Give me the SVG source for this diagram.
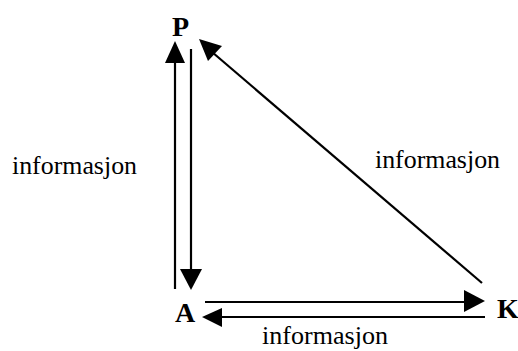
<svg xmlns="http://www.w3.org/2000/svg" width="518" height="351" viewBox="0 0 518 351">
<style>
.lbl{font-family:'Liberation Serif',serif;font-weight:bold;font-size:28px;fill:#000}
.txt{font-family:'Liberation Serif',serif;font-size:26px;fill:#000}
.ln{stroke:#000;stroke-width:2.2;fill:none}
.ah{fill:#000}
</style>
<rect width="518" height="351" fill="#fff"/>
<g id="P"><text class="lbl" x="172" y="36">P</text></g>
<g id="A"><text class="lbl" x="175" y="322">A</text></g>
<g id="K"><text class="lbl" x="497" y="318">K</text></g>
<g id="connectors">
  <line class="ln" x1="175" y1="289" x2="175" y2="60"/>
  <polygon class="ah" points="175,41 165,63 185,63"/>
  <line class="ln" x1="191" y1="49" x2="191" y2="271"/>
  <polygon class="ah" points="191,290 180,269 202,269"/>
  <line class="ln" x1="482" y1="283" x2="212" y2="52"/>
  <polygon class="ah" points="199,39 208,61 222,46"/>
  <line class="ln" x1="205" y1="302" x2="467" y2="302"/>
  <polygon class="ah" points="485,301 464,290 464,312"/>
  <line class="ln" x1="485" y1="317" x2="221" y2="317"/>
  <polygon class="ah" points="202,317 222,308 222,327"/>
</g>
<g id="labels">
  <text class="txt" x="12" y="174" textLength="125" lengthAdjust="spacingAndGlyphs">informasjon</text>
  <text class="txt" x="375" y="168" textLength="125" lengthAdjust="spacingAndGlyphs">informasjon</text>
  <text class="txt" x="262" y="344" font-size="25" textLength="126" lengthAdjust="spacingAndGlyphs">informasjon</text>
</g>
</svg>
